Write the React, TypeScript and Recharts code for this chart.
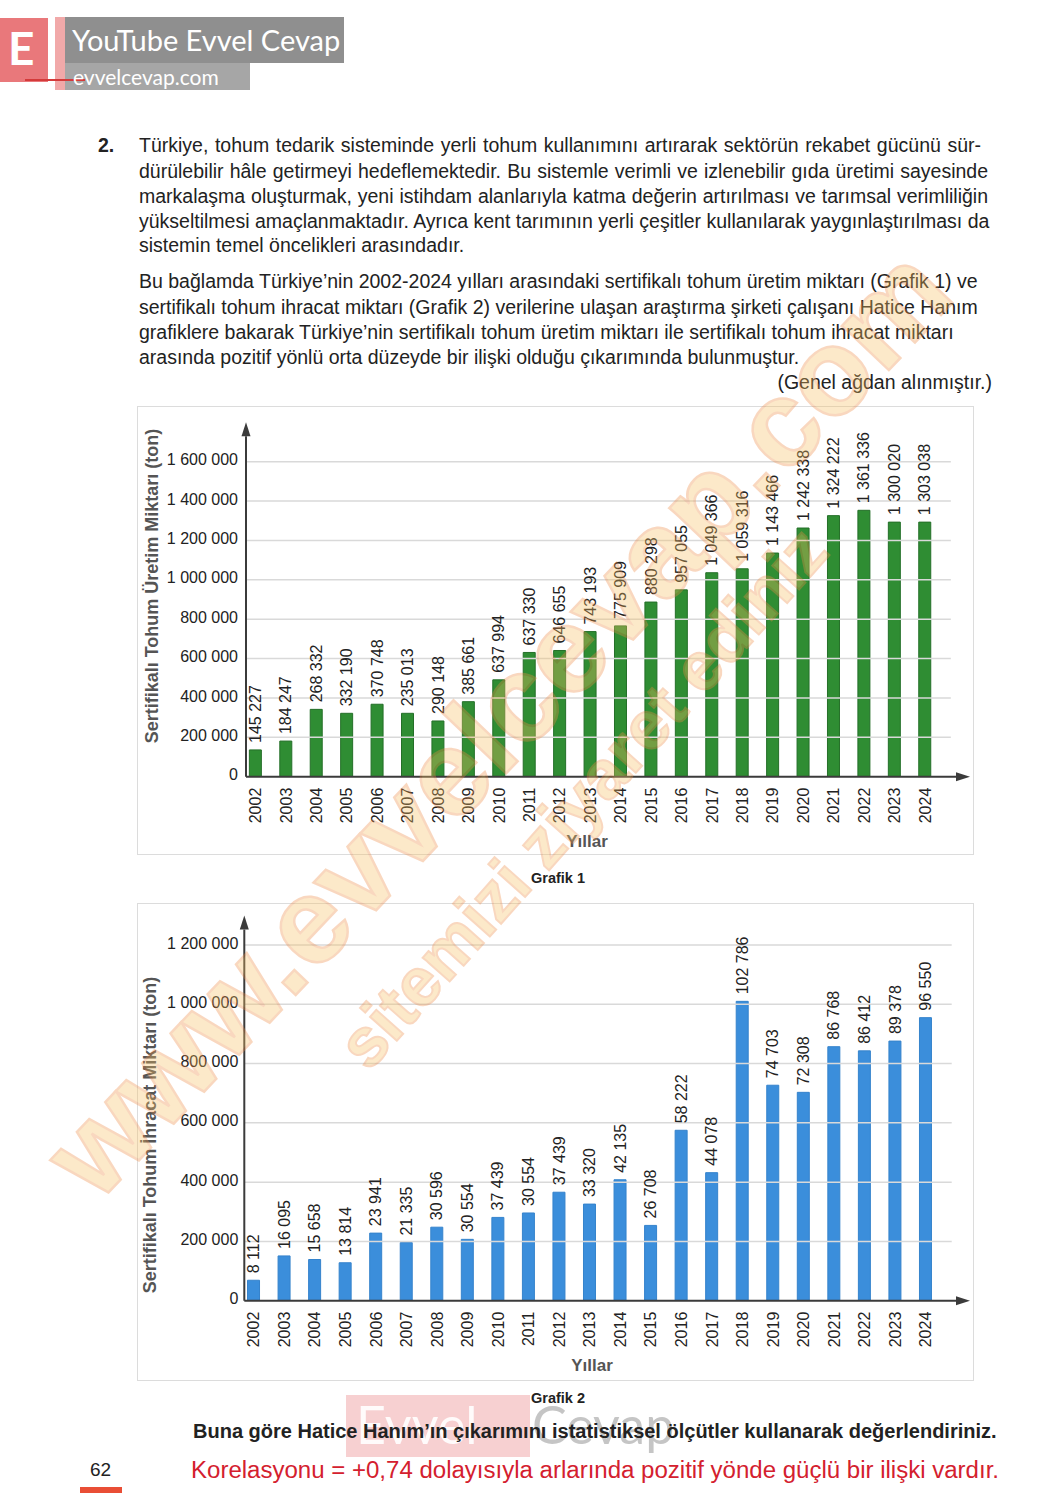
import React from 'react';
import { BarChart, Bar, XAxis, YAxis, ReferenceLine, LabelList } from 'recharts';

const years = [
  2002, 2003, 2004, 2005, 2006, 2007, 2008, 2009, 2010, 2011, 2012, 2013,
  2014, 2015, 2016, 2017, 2018, 2019, 2020, 2021, 2022, 2023, 2024
];

// Grafik 1 - bar heights as drawn, and the labels printed over them
const uretim = [
  136000, 181000, 342000, 322000, 368000, 322000, 283000, 381000, 492000, 631000, 641000, 737000,
  766000, 887000, 949000, 1036000, 1056000, 1136000, 1263000, 1326000, 1353000, 1293000, 1293000
];
const uretimEtiket = [
  '145 227', '184 247', '268 332', '332 190', '370 748', '235 013', '290 148', '385 661',
  '637 994', '637 330', '646 655', '743 193', '775 909', '880 298', '957 055', '1 049 366',
  '1 059 316', '1 143 466', '1 242 338', '1 324 222', '1 361 336', '1 300 020', '1 303 038'
];
const uretimTicks = [0, 200000, 400000, 600000, 800000, 1000000, 1200000, 1400000, 1600000];

// Grafik 2
const ihracat = [
  69000, 151000, 139000, 128000, 228000, 196000, 248000, 207000, 281000, 296000, 366000, 326000,
  408000, 254000, 575000, 432000, 1010000, 727000, 703000, 857000, 843000, 876000, 955000
];
const ihracatEtiket = [
  '8 112', '16 095', '15 658', '13 814', '23 941', '21 335', '30 596', '30 554', '37 439',
  '30 554', '37 439', '33 320', '42 135', '26 708', '58 222', '44 078', '102 786', '74 703',
  '72 308', '86 768', '86 412', '89 378', '96 550'
];
const ihracatTicks = [0, 200000, 400000, 600000, 800000, 1000000, 1200000];

const FONT = '"Liberation Sans", Arial, Helvetica, sans-serif';
const TEXT = '#222';

const fmt = (v: number) => String(v).replace(/\B(?=(\d{3})+(?!\d))/g, ' ');

const Arrow = (props: any) => {
  const { x1, y1, x2, y2 } = props;
  const dx = x2 - x1;
  const dy = y2 - y1;
  const len = Math.hypot(dx, dy) || 1;
  const ux = dx / len;
  const uy = dy / len;
  const L = 14;
  const W = 4.5;
  const bx = x2 - ux * L;
  const by = y2 - uy * L;
  return (
    <g>
      <line x1={x1} y1={y1} x2={bx} y2={by} stroke="#3b3b3b" strokeWidth={2} />
      <polygon
        points={`${x2},${y2} ${bx - uy * W},${by + ux * W} ${bx + uy * W},${by - ux * W}`}
        fill="#3b3b3b"
      />
    </g>
  );
};

const YearTick = (props: any) => {
  const { x, y, payload } = props;
  const ty = y + 11;
  return (
    <text
      x={x}
      y={ty}
      transform={`rotate(-90, ${x}, ${ty})`}
      textAnchor="end"
      dy="0.35em"
      fontSize={16}
      fill={TEXT}
      fontFamily={FONT}
    >
      {payload.value}
    </text>
  );
};

const ValueTick = (props: any) => {
  const { x, y, payload } = props;
  return (
    <text x={x} y={y - 2} textAnchor="end" dy="0.35em" fontSize={16} fill={TEXT} fontFamily={FONT}>
      {fmt(payload.value)}
    </text>
  );
};

const ValueLabel = (props: any) => {
  const { x, y, width, value } = props;
  const cx = x + width / 2;
  const cy = y - 7;
  return (
    <text
      x={cx}
      y={cy}
      transform={`rotate(-90, ${cx}, ${cy})`}
      textAnchor="start"
      dy="0.35em"
      fontSize={16}
      fill={TEXT}
      fontFamily={FONT}
    >
      {value}
    </text>
  );
};

type ChartProps = {
  values: number[];
  labels: string[];
  ticks: number[];
  yMax: number;
  xStart: number;
  xEnd: number;
  gridEnd: number;
  width: number;
  height: number;
  top: number;
  yWidth: number;
  xHeight: number;
  gap: number;
  fill: string;
  stroke: string;
};

function SeedChart(p: ChartProps) {
  const data = years.map((year, i) => ({ year, value: p.values[i], label: p.labels[i] }));
  return (
    <BarChart
      width={p.width}
      height={p.height}
      data={data}
      margin={{ top: p.top, right: 4, left: 0, bottom: 0 }}
      style={{ fontFamily: FONT }}
    >
      <XAxis
        type="number"
        dataKey="year"
        domain={[p.xStart, p.xEnd]}
        ticks={years}
        interval={0}
        allowDataOverflow
        axisLine={false}
        tickLine={false}
        tickSize={0}
        tickMargin={0}
        height={p.xHeight}
        tick={YearTick}
      />
      <YAxis
        type="number"
        domain={[0, p.yMax]}
        ticks={p.ticks}
        interval={0}
        allowDataOverflow
        axisLine={false}
        tickLine={false}
        tickSize={0}
        tickMargin={p.gap}
        width={p.yWidth}
        tick={ValueTick}
      />
      {p.ticks
        .filter((t) => t > 0)
        .map((t) => (
          <ReferenceLine
            key={t}
            segment={[
              { x: p.xStart, y: t },
              { x: p.gridEnd, y: t }
            ]}
            stroke="#d9d9d9"
            strokeWidth={1.5}
            ifOverflow="visible"
          />
        ))}
      <Bar dataKey="value" fill={p.fill} stroke={p.stroke} strokeWidth={1} barSize={12} isAnimationActive={false}>
        <LabelList dataKey="label" content={ValueLabel} />
      </Bar>
      <ReferenceLine
        segment={[
          { x: p.xStart, y: 0 },
          { x: p.xEnd, y: 0 }
        ]}
        shape={Arrow}
        ifOverflow="visible"
      />
      <ReferenceLine
        segment={[
          { x: p.xStart, y: 0 },
          { x: p.xStart, y: p.yMax }
        ]}
        shape={Arrow}
        ifOverflow="visible"
      />
    </BarChart>
  );
}

const abs = (left: number, top: number, extra: React.CSSProperties = {}): React.CSSProperties => ({
  position: 'absolute',
  left,
  top,
  whiteSpace: 'nowrap',
  ...extra
});

const para1 = [
  'Türkiye, tohum tedarik sisteminde yerli tohum kullanımını artırarak sektörün rekabet gücünü sür-',
  'dürülebilir hâle getirmeyi hedeflemektedir. Bu sistemle verimli ve izlenebilir gıda üretimi sayesinde',
  'markalaşma oluşturmak, yeni istihdam alanlarıyla katma değerin artırılması ve tarımsal verimliliğin',
  'yükseltilmesi amaçlanmaktadır. Ayrıca kent tarımının yerli çeşitler kullanılarak yaygınlaştırılması da',
  'sistemin temel öncelikleri arasındadır.'
];
const para1Y = [145, 171, 196, 221, 245];
const para1W = [842, 849, 849, 850, 0];

const para2 = [
  'Bu bağlamda Türkiye’nin 2002-2024 yılları arasındaki sertifikalı tohum üretim miktarı (Grafik 1) ve',
  'sertifikalı tohum ihracat miktarı (Grafik 2) verilerine ulaşan araştırma şirketi çalışanı Hatice Hanım',
  'grafiklere bakarak Türkiye’nin sertifikalı tohum üretim miktarı ile sertifikalı tohum ihracat miktarı',
  'arasında pozitif yönlü orta düzeyde bir ilişki olduğu çıkarımında bulunmuştur.'
];
const para2Y = [281, 307, 332, 357];

const bodyText: React.CSSProperties = { fontFamily: FONT, fontSize: 19.5, color: TEXT, lineHeight: '25px' };

function Title({ x, y, text, size, color, rotate }: { x: number; y: number; text: string; size: number; color: string; rotate?: boolean }) {
  return (
    <div
      style={{
        position: 'absolute',
        left: x,
        top: y,
        transform: `translate(-50%, -50%)${rotate ? ' rotate(-90deg)' : ''}`,
        whiteSpace: 'nowrap',
        fontFamily: FONT,
        fontWeight: 700,
        fontSize: size,
        color
      }}
    >
      {text}
    </div>
  );
}

function Watermark() {
  return (
    <svg style={abs(0, 0, { pointerEvents: 'none' })} width={1043} height={1508}>
      <g opacity={0.34} fontFamily={FONT} fontWeight={700}>
        <text
          x={497}
          y={722}
          transform="rotate(-46.5, 497, 722)"
          textAnchor="middle"
          dominantBaseline="central"
          fontSize={122}
          fill="#f7c062"
          stroke="#ef8d45"
          strokeWidth={2.5}
        >
          www.evvelcevap.com
        </text>
        <text
          x={582}
          y={797}
          transform="rotate(-48.3, 582, 797)"
          textAnchor="middle"
          dominantBaseline="central"
          fontSize={68}
          fill="#f7c062"
          stroke="#ef8d45"
          strokeWidth={2}
        >
          sitemizi ziyaret ediniz
        </text>
      </g>
    </svg>
  );
}

export default function App() {
  return (
    <div
      style={{
        position: 'absolute',
        left: 0,
        top: 0,
        width: 1043,
        height: 1508,
        overflow: 'hidden',
        background: '#fff'
      }}
    >
      {/* logo */}
      <div style={abs(0, 18, { width: 48, height: 64, background: '#e9787b' })} />
      <div style={abs(8, 22, { color: '#fff', fontFamily: 'Lato, sans-serif', fontWeight: 700, fontSize: 46, lineHeight: '52px' })}>E</div>
      <div style={abs(55, 17, { width: 10, height: 73, background: '#f1a9a9' })} />
      <div style={abs(65, 17, { width: 279, height: 46, background: '#8f8f8f' })} />
      <div style={abs(72, 20, { color: '#fff', fontFamily: 'Lato, sans-serif', fontSize: 29, lineHeight: '40px' })}>YouTube Evvel Cevap</div>
      <div style={abs(65, 63, { width: 185, height: 27, background: '#a6a6a6' })} />
      <div style={abs(25, 79, { width: 60, height: 1.5, background: '#d43a3a' })} />
      <div style={abs(73, 64, { color: '#fff', fontFamily: 'Lato, sans-serif', fontSize: 21, lineHeight: '26px' })}>evvelcevap.com</div>

      {/* question text */}
      <div style={abs(98, 145 - 12.5, { ...bodyText, fontWeight: 700 })}>2.</div>
      {para1.map((line, i) => (
        <div
          key={i}
          style={abs(139, para1Y[i] - 12.5, {
            ...bodyText,
            width: para1W[i] || undefined,
            textAlign: para1W[i] ? 'justify' : 'left',
            textAlignLast: para1W[i] ? 'justify' : 'auto'
          })}
        >
          {line}
        </div>
      ))}
      {para2.map((line, i) => (
        <div key={i} style={abs(139, para2Y[i] - 12.5, bodyText)}>
          {line}
        </div>
      ))}
      <div style={abs(692, 382 - 12.5, { ...bodyText, width: 300, textAlign: 'right' })}>(Genel ağdan alınmıştır.)</div>

      {/* Grafik 1 */}
      <div style={abs(137, 406, { width: 835, height: 447, border: '1px solid #dcdcdc' })} />
      <div style={abs(137, 406)}>
        <SeedChart
          values={uretim}
          labels={uretimEtiket}
          ticks={uretimTicks}
          yMax={1800000}
          xStart={2001.685}
          xEnd={2025.48}
          gridEnd={2024.85}
          width={837}
          height={449}
          top={16.3}
          yWidth={109}
          xHeight={78.3}
          gap={8}
          fill="#2f8d33"
          stroke="#246f28"
        />
      </div>
      <Title x={152} y={586} text="Sertifikalı Tohum Üretim Miktarı (ton)" size={18} color="#555" rotate />
      <Title x={587} y={842} text="Yıllar" size={17} color="#555" />
      <Title x={558} y={878} text="Grafik 1" size={14.5} color="#222" />

      {/* Grafik 2 */}
      <div style={abs(137, 903, { width: 835, height: 476, border: '1px solid #dcdcdc' })} />
      <div style={abs(137, 903)}>
        <SeedChart
          values={ihracat}
          labels={ihracatEtiket}
          ticks={ihracatTicks}
          yMax={1300000}
          xStart={2001.689}
          xEnd={2025.449}
          gridEnd={2024.85}
          width={837}
          height={478}
          top={12.4}
          yWidth={107.3}
          xHeight={80.3}
          gap={6}
          fill="#3b8edb"
          stroke="#3583cc"
        />
      </div>
      <Title x={150} y={1135} text="Sertifikalı Tohum İhracat Miktarı (ton)" size={18} color="#555" rotate />
      <Title x={592} y={1366} text="Yıllar" size={17} color="#555" />

      <Watermark />

      {/* watermark box */}
      <div style={abs(346, 1395, { width: 184, height: 62, background: 'rgba(233,120,123,0.35)' })} />
      <div style={abs(356, 1393, { color: 'rgba(255,255,255,0.9)', fontFamily: 'Lato, sans-serif', fontSize: 52, lineHeight: '62px' })}>Evvel</div>
      <div style={abs(532, 1393, { color: 'rgba(150,150,150,0.55)', fontFamily: 'Lato, sans-serif', fontSize: 52, lineHeight: '62px' })}>Cevap</div>

      <Title x={558} y={1398} text="Grafik 2" size={14.5} color="#222" />

      <div style={abs(193, 1431 - 12.5, { ...bodyText, fontWeight: 700, fontSize: 20 })}>
        Buna göre Hatice Hanım’ın çıkarımını istatistiksel ölçütler kullanarak değerlendiriniz.
      </div>
      <svg style={abs(191, 1454)} width={820} height={34}>
        <text x={0} y={24} textLength={808} lengthAdjust="spacingAndGlyphs" fontSize={23} fill="#d4202e" fontFamily={FONT}>
          Korelasyonu = +0,74 dolayısıyla arlarında pozitif yönde güçlü bir ilişki vardır.
        </text>
      </svg>

      {/* page number */}
      <div style={abs(90, 1469 - 12.5, { ...bodyText, fontSize: 19 })}>62</div>
      <div style={abs(80, 1487, { width: 42, height: 6, background: '#e94e35' })} />
    </div>
  );
}
